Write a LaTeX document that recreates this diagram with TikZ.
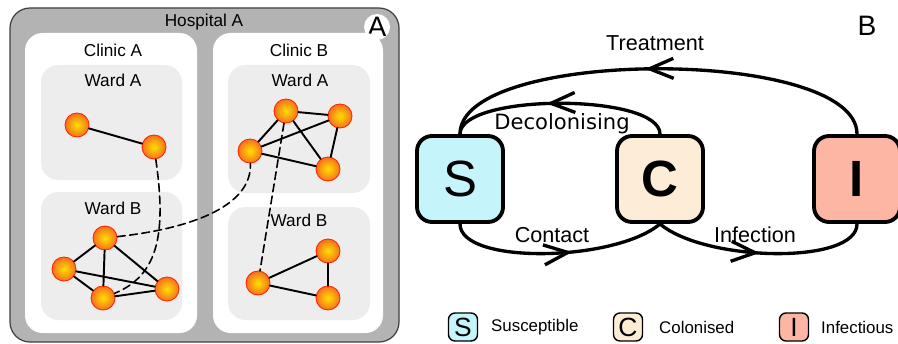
\documentclass[tikz,border=0pt]{standalone}
\usepackage{fontspec}
\setmainfont{Liberation Sans}
\newfontfamily\dejavu{DejaVu Sans}
\usetikzlibrary{arrows.meta,decorations.markings}

\definecolor{hospgray}{HTML}{B3B3B3}
\definecolor{wardgray}{HTML}{EDEDED}
\definecolor{suscol}{HTML}{C6F4FB}
\definecolor{colcol}{HTML}{FDEDD6}
\definecolor{infcol}{HTML}{FDB6A3}
\definecolor{ptin}{HTML}{FFE000}
\definecolor{ptout}{HTML}{F5701E}

\begin{document}
\begin{tikzpicture}[x=0.02cm, y=-0.02cm, line cap=round, line join=round,
  hosp/.style={draw=black!75, fill=hospgray, line width=0.7pt, rounded corners=0.4cm},
  clinic/.style={fill=white, rounded corners=0.35cm},
  ward/.style={fill=wardgray, rounded corners=0.35cm},
  lbl/.style={font=\fontsize{9.8}{11}\selectfont},
  pt/.style={circle, minimum size=0.48cm, inner sep=0pt, draw=red!70!orange, line width=0.5pt,
    shading=radial, inner color=ptin, outer color=ptout},
  link/.style={line width=1.1pt},
  hop/.style={line width=0.9pt, dash pattern=on 4.5pt off 2.5pt},
  state/.style={draw, line width=2.2pt, rounded corners=0.3cm, minimum size=1.72cm, inner sep=0pt},
  flow/.style={line width=1.9pt, postaction={decorate},
    decoration={markings, mark=at position #1 with {\arrow{Straight Barb[length=0.48cm,width=0.4cm]}}}},
  keybox/.style={draw, line width=0.8pt, rounded corners=0.13cm, minimum width=0.58cm,
    minimum height=0.56cm, inner sep=0pt, font=\fontsize{15}{15}\selectfont},
  keylbl/.style={anchor=west, font=\fontsize{9.6}{11}\selectfont},
  flowlbl/.style={font=\fontsize{12.3}{14}\selectfont}]

\useasboundingbox (0,0) rectangle (898,344);

% hospital, clinics and wards
\draw[hosp] (10,8) rectangle (399,342);
\fill[white] (377,27) circle (13);
\node[font=\fontsize{16}{16}\selectfont] (tagA) at (377,27) {A};
\node[lbl] (hospA) at (204,22) {Hospital A};

\fill[clinic] (25,33) rectangle (197,333);
\fill[clinic] (213,33) rectangle (383,333);
\node[lbl] (clinA) at (113,50) {Clinic A};
\node[lbl] (clinB) at (299,50) {Clinic B};

\fill[ward] (41,65) rectangle (182,180);
\fill[ward] (41,192) rectangle (182,320);
\fill[ward] (228,65) rectangle (370,193);
\fill[ward] (228,207) rectangle (370,320);
\node[lbl] (wardAA) at (113,80) {Ward A};
\node[lbl] (wardAB) at (113,208) {Ward B};
\node[lbl] (wardBA) at (300,80) {Ward A};
\node[lbl] (wardBB) at (299,220) {Ward B};

% patients
\node[pt] (a1) at (77,125) {};
\node[pt] (a2) at (154,147) {};
\node[pt] (b1) at (105,238) {};
\node[pt] (b2) at (64,269) {};
\node[pt] (b3) at (103,298) {};
\node[pt] (b4) at (167,289) {};
\node[pt] (c1) at (286,111) {};
\node[pt] (c2) at (340,116) {};
\node[pt] (c3) at (250,151) {};
\node[pt] (c4) at (328,169) {};
\node[pt] (d1) at (258,283) {};
\node[pt] (d2) at (328,251) {};
\node[pt] (d3) at (328,298) {};

% contacts inside a ward
\draw[link] (a1) -- (a2);
\draw[link] (b1) -- (b2) (b1) -- (b3) (b1) -- (b4) (b2) -- (b3) (b2) -- (b4) (b3) -- (b4);
\draw[link] (c1) -- (c2) (c1) -- (c3) (c1) -- (c4) (c3) -- (c2) (c3) -- (c4) (c2) -- (c4);
\draw[link] (d1) -- (d2) (d1) -- (d3) (d2) -- (d3);

% contacts between wards
\draw[hop] (a2) .. controls (166,230) and (160,275) .. (b3);
\draw[hop] (b1) .. controls (195,228) and (252,205) .. (c3);
\draw[hop] (c1) -- (d1);

% compartment model
\node[state, fill=suscol, font=\fontsize{29}{29}\selectfont] (S) at (460,179) {S};
\node[state, fill=colcol, font=\fontsize{29}{29}\selectfont\bfseries] (C) at (660,179) {C};
\node[state, fill=infcol, font=\fontsize{29}{29}\selectfont\bfseries] (I) at (857,179) {I};
\node[font=\fontsize{16}{16}\selectfont] (tagB) at (867,26) {B};

\draw[flow=0.53] (I.north) .. controls (857,47) and (460,47) .. (S.north);
\draw[flow=0.56] (C.north) .. controls (660,93) and (460,93) .. (S.north);
\draw[flow=0.57] (S.south) .. controls (460,265) and (615,262) .. (C.south);
\draw[flow=0.49] (C.south) .. controls (705,262) and (857,265) .. (I.south);

\node[flowlbl] (treat) at (655,43) {Treatment};
\node[font=\dejavu\fontsize{12}{14}\selectfont] (decol) at (562,124) {Decolonising};
\node[flowlbl] (contact) at (552,235) {Contact};
\node[flowlbl] (infect) at (755,235) {Infection};

% legend
\node[keybox, fill=suscol] (keyS) at (463,327) {S};
\node[keybox, fill=colcol] (keyC) at (628,327) {C};
\node[keybox, fill=infcol] (keyI) at (794,327) {I};
\node[keylbl] (txtS) at (485,327) {Susceptible};
\node[keylbl] (txtC) at (653,327) {Colonised};
\node[keylbl] (txtI) at (815,327) {Infectious};

\end{tikzpicture}
\end{document}
